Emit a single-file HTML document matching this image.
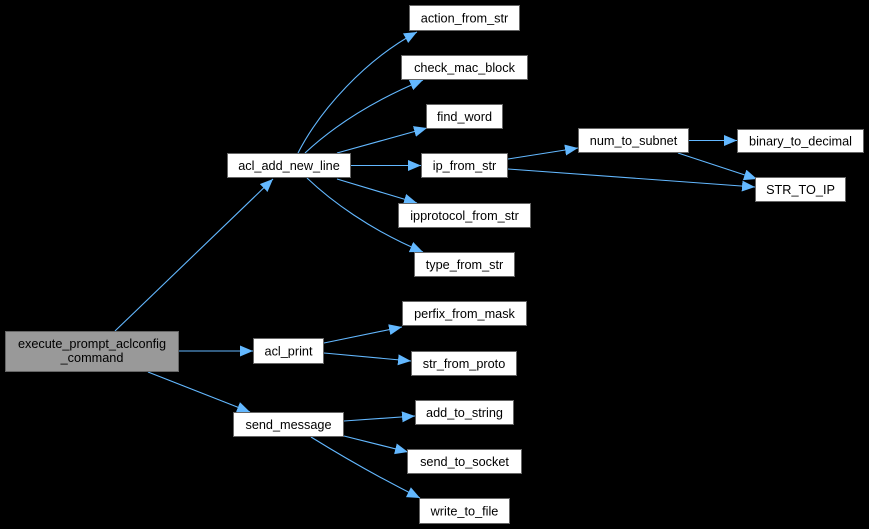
<!DOCTYPE html>
<html><head><meta charset="utf-8"><style>
html,body{margin:0;padding:0;background:#000;}
svg{display:block;}
text{font-family:"Liberation Sans",Arial,sans-serif;font-size:12.7px;fill:#000;text-anchor:middle;}
.b{fill:#fff;stroke:#666;stroke-width:1;}
.e{fill:none;stroke:#63b8ff;stroke-width:1.1;}
</style></head><body>
<svg width="869" height="529" viewBox="0 0 869 529" xmlns="http://www.w3.org/2000/svg">
<defs>
<marker id="a" markerUnits="userSpaceOnUse" markerWidth="14" markerHeight="12" refX="13" refY="5.5" orient="auto">
<path d="M0,0 L13,5.5 L0,11 Z" fill="#63b8ff"/>
</marker>
</defs>
<rect x="0" y="0" width="869" height="529" fill="#000"/>
<!-- edges -->
<path class="e" marker-end="url(#a)" d="M115,331 L273,179"/>
<path class="e" marker-end="url(#a)" d="M179,351 L253,351"/>
<path class="e" marker-end="url(#a)" d="M148,372 L250,412"/>
<path class="e" marker-end="url(#a)" d="M298,153 C320,110 365,60 417,32"/>
<path class="e" marker-end="url(#a)" d="M305,153 C335,125 375,100 423,80"/>
<path class="e" marker-end="url(#a)" d="M337,153 L427,128"/>
<path class="e" marker-end="url(#a)" d="M351,165.5 L421,165.5"/>
<path class="e" marker-end="url(#a)" d="M337,179 L417,203"/>
<path class="e" marker-end="url(#a)" d="M307,178 C330,200 370,230 423,252"/>
<path class="e" marker-end="url(#a)" d="M508,159 L578,148"/>
<path class="e" marker-end="url(#a)" d="M508,169 L755,187"/>
<path class="e" marker-end="url(#a)" d="M689,140.5 L737,140.5"/>
<path class="e" marker-end="url(#a)" d="M678,153 L757,179"/>
<path class="e" marker-end="url(#a)" d="M324,343 L402,327"/>
<path class="e" marker-end="url(#a)" d="M324,353 L411,361"/>
<path class="e" marker-end="url(#a)" d="M344,421 L415,416"/>
<path class="e" marker-end="url(#a)" d="M344,436 L408,452"/>
<path class="e" marker-end="url(#a)" d="M311,437 C340,455 380,478 420,498"/>
<!-- nodes -->
<rect x="5.5" y="331.5" width="173" height="40" fill="#999" stroke="#666"/>
<text x="92" y="348">execute_prompt_aclconfig</text>
<text x="92" y="362">_command</text>

<rect class="b" x="227.5" y="153.5" width="123" height="24"/>
<text x="289" y="170">acl_add_new_line</text>

<rect class="b" x="253.5" y="338.5" width="70" height="25"/>
<text x="288.5" y="355.5">acl_print</text>

<rect class="b" x="233.5" y="412.5" width="110" height="24"/>
<text x="288.5" y="429">send_message</text>

<rect class="b" x="409.5" y="5.5" width="110" height="25"/>
<text x="464.5" y="22.5">action_from_str</text>

<rect class="b" x="401.5" y="55.5" width="126" height="24"/>
<text x="464.5" y="72">check_mac_block</text>

<rect class="b" x="426.5" y="104.5" width="76" height="24"/>
<text x="464.5" y="121">find_word</text>

<rect class="b" x="421.5" y="153.5" width="86" height="24"/>
<text x="464.5" y="170">ip_from_str</text>

<rect class="b" x="398.5" y="203.5" width="132" height="24"/>
<text x="464.5" y="220">ipprotocol_from_str</text>

<rect class="b" x="414.5" y="252.5" width="100" height="24"/>
<text x="464.5" y="269">type_from_str</text>

<rect class="b" x="578.5" y="128.5" width="110" height="24"/>
<text x="633.5" y="145">num_to_subnet</text>

<rect class="b" x="737.5" y="129.5" width="126" height="23"/>
<text x="800.5" y="145.5">binary_to_decimal</text>

<rect class="b" x="755.5" y="177.5" width="90" height="24"/>
<text x="800.5" y="194">STR_TO_IP</text>

<rect class="b" x="402.5" y="301.5" width="124" height="24"/>
<text x="464.5" y="318">perfix_from_mask</text>

<rect class="b" x="411.5" y="351.5" width="105" height="24"/>
<text x="464" y="368">str_from_proto</text>

<rect class="b" x="415.5" y="400.5" width="98" height="24"/>
<text x="464.5" y="417">add_to_string</text>

<rect class="b" x="407.5" y="449.5" width="114" height="24"/>
<text x="464.5" y="466">send_to_socket</text>

<rect class="b" x="419.5" y="498.5" width="90" height="25"/>
<text x="464.5" y="515.5">write_to_file</text>
</svg>
</body></html>
